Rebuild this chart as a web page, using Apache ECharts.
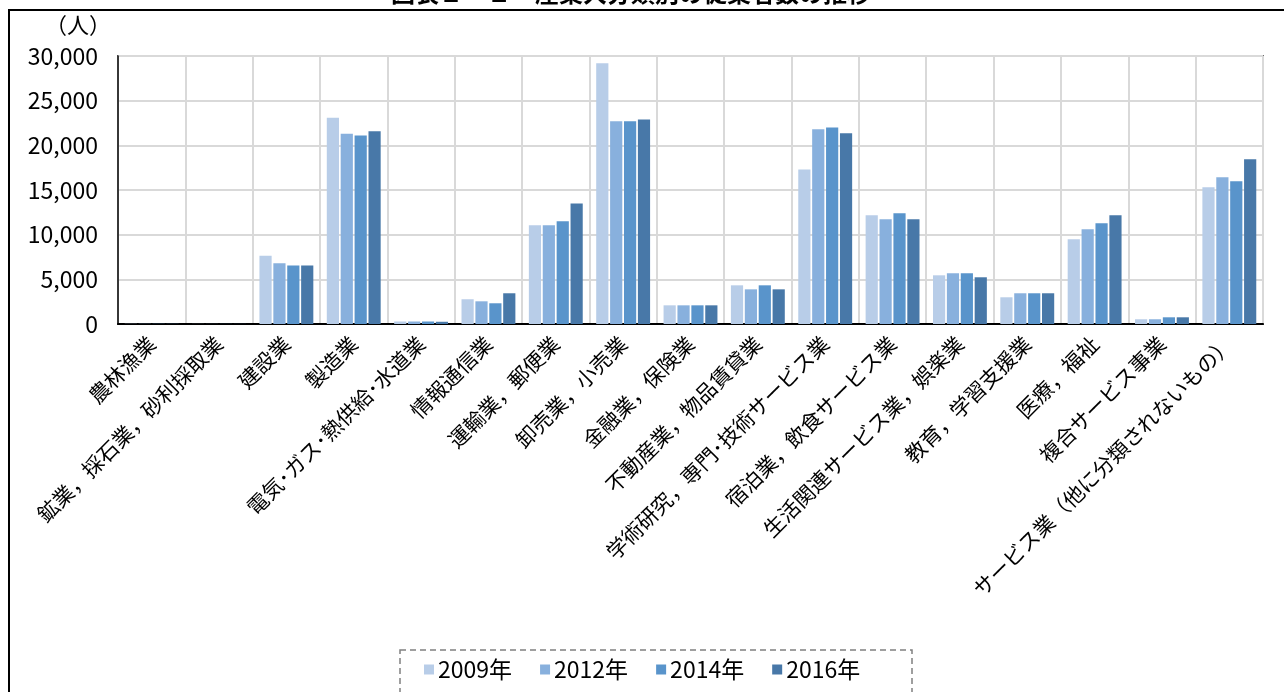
<!DOCTYPE html>
<html>
<head>
<meta charset="utf-8">
<script src="https://cdn.jsdelivr.net/npm/echarts@6/dist/echarts.min.js"></script>
<style>
html,body{margin:0;padding:0;background:#fff;}
#chart{width:1284px;height:692px;}
</style>
</head>
<body>
<div id="chart"></div>
<script>
const categories = [
  '農林漁業',
  '鉱業，採石業，砂利採取業',
  '建設業',
  '製造業',
  '電気･ガス･熱供給･水道業',
  '情報通信業',
  '運輸業，郵便業',
  '卸売業，小売業',
  '金融業，保険業',
  '不動産業，物品賃貸業',
  '学術研究，専門･技術サービス業',
  '宿泊業，飲食サービス業',
  '生活関連サービス業，娯楽業',
  '教育，学習支援業',
  '医療，福祉',
  '複合サービス事業',
  'サービス業（他に分類されないもの）'
];
const seriesNames = ['2009年', '2012年', '2014年', '2016年'];
const v2009 = [20, 10, 7650, 23100, 280, 2770, 11050, 29200, 2090, 4330, 17300, 12170, 5450, 2990, 9480, 530, 15300];
const v2012 = [20, 10, 6800, 21300, 280, 2540, 11050, 22700, 2090, 3880, 21800, 11720, 5680, 3440, 10600, 530, 16420];
const v2014 = [20, 10, 6550, 21100, 280, 2320, 11500, 22700, 2090, 4330, 22000, 12390, 5680, 3440, 11270, 750, 15970];
const v2016 = [20, 10, 6550, 21570, 250, 3440, 13500, 22900, 2090, 3880, 21350, 11720, 5230, 3440, 12170, 750, 18440];
const yTicks = { min: 0, max: 30000, interval: 5000 };
const colors = ['#B8CDE8', '#88B0DD', '#5994CB', '#4878A8'];
const titleText = '図表２－１　産業大分類別の従業者数の推移';

const FONT = '"Noto Sans CJK JP", "Noto Sans", sans-serif';
const chart = echarts.init(document.getElementById('chart'));
const values = [v2009, v2012, v2014, v2016];

chart.setOption({
  animation: false,
  color: colors,
  textStyle: { fontFamily: FONT, color: '#000' },
  grid: {
    left: 118, right: 21, top: 56, bottom: 368,
    show: true, borderColor: '#000', borderWidth: 1.5, containLabel: false
  },
  legend: {
    data: seriesNames,
    left: 424, top: 658,
    padding: 0,
    itemWidth: 10, itemHeight: 10, itemGap: 28,
    icon: 'rect',
    textStyle: { fontSize: 23, fontFamily: FONT, color: '#000', padding: [0, 0, 0, -1] }
  },
  xAxis: {
    type: 'category',
    data: categories,
    boundaryGap: true,
    axisLine: { lineStyle: { color: '#000', width: 2 } },
    axisTick: { show: false },
    splitLine: { show: true, interval: 0, lineStyle: { color: '#d9d9d9', width: 2 } },
    axisLabel: {
      interval: 0, rotate: 45, margin: 16,
      fontSize: 21, fontFamily: FONT, color: '#000'
    }
  },
  yAxis: {
    type: 'value',
    min: yTicks.min, max: yTicks.max, interval: yTicks.interval,
    axisLine: { show: true, lineStyle: { color: '#000', width: 1.5 } },
    axisTick: { show: false },
    splitLine: { lineStyle: { color: '#d9d9d9', width: 2 } },
    axisLabel: {
      margin: 20, fontSize: 23, fontFamily: FONT, color: '#000',
      formatter: v => v.toLocaleString('en-US')
    }
  },
  series: seriesNames.map((n, i) => ({
    name: n,
    type: 'bar',
    data: values[i],
    barCategoryGap: '20%',
    barGap: '14%',
    itemStyle: { color: colors[i] }
  })),
  graphic: [
    {
      type: 'rect', silent: true,
      shape: { x: 9, y: 10, width: 1290, height: 700 },
      style: { fill: 'none', stroke: '#000', lineWidth: 2 }
    },
    {
      type: 'text', silent: true,
      style: {
        text: titleText, x: 631, y: -7,
        textAlign: 'center', textVerticalAlign: 'middle',
        font: 'bold 24px ' + FONT, fill: '#000'
      }
    },
    {
      type: 'text', silent: true,
      style: {
        text: '（人）', x: 78, y: 25,
        textAlign: 'center', textVerticalAlign: 'middle',
        font: '22px ' + FONT, fill: '#000'
      }
    },
    {
      type: 'rect', silent: true,
      shape: { x: 400, y: 650, width: 512, height: 60 },
      style: { fill: 'none', stroke: '#808080', lineWidth: 1.5, lineDash: [6, 4] }
    }
  ]
});
</script>
</body>
</html>
